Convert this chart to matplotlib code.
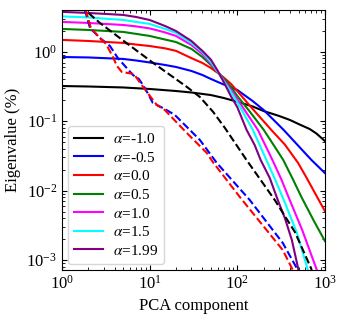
import numpy as np
import matplotlib
matplotlib.use('Agg')
import matplotlib.pyplot as plt

plt.rcParams['font.family'] = 'serif'
plt.rcParams['font.serif'] = ['Liberation Serif', 'DejaVu Serif']
plt.rcParams['mathtext.fontset'] = 'stix'
plt.rcParams['font.size'] = 12

# solid curves: eigenvalue spectrum for each alpha
labels = [r'$\alpha$=-1.0', r'$\alpha$=-0.5', r'$\alpha$=0.0', r'$\alpha$=0.5',
          r'$\alpha$=1.0', r'$\alpha$=1.5', r'$\alpha$=1.99']
colors = ['black', 'blue', 'red', 'green', 'magenta', 'cyan', 'purple']

x_m10 = [1, 2, 5, 10, 20, 30, 50, 70, 100, 150, 200, 300, 400, 500, 670, 800, 1000]
y_m10 = [0.321, 0.316, 0.306, 0.291, 0.272, 0.259, 0.238, 0.216, 0.191, 0.163, 0.140,
         0.119, 0.104, 0.0911, 0.0772, 0.0665, 0.0518]

x_m05 = [1, 2, 5, 7, 10, 15, 20, 30, 40, 50, 60, 70, 85, 100, 150, 200, 339, 500, 703, 1000]
y_m05 = [0.84, 0.828, 0.788, 0.749, 0.701, 0.645, 0.604, 0.529, 0.463, 0.406, 0.367, 0.338,
         0.306, 0.282, 0.195, 0.145, 0.0747, 0.0439, 0.0276, 0.0179]

x_00 = [1, 2, 5, 7, 10, 15, 20, 30, 40, 50, 60, 70, 85, 100, 150, 245, 350, 495, 620, 770, 1000]
y_00 = [1.48, 1.43, 1.34, 1.27, 1.21, 1.12, 1.03, 0.81, 0.690, 0.584, 0.495, 0.426, 0.344,
        0.272, 0.150, 0.0747, 0.0459, 0.025, 0.0152, 0.00923, 0.00508]

x_05 = [1, 2, 5, 7, 10, 15, 20, 30, 40, 50, 60, 70, 85, 100, 140, 201, 260, 335, 430, 540, 750, 1000]
y_05 = [2.13, 2.06, 1.93, 1.81, 1.69, 1.50, 1.38, 1.10, 0.841, 0.645, 0.511, 0.412, 0.311,
        0.231, 0.136, 0.0747, 0.0454, 0.0276, 0.0147, 0.00809, 0.00365, 0.00188]

x_10 = [1, 2, 5, 7, 10, 15, 20, 30, 40, 50, 60, 70, 85, 100, 130, 172, 252, 320, 397, 550, 810]
y_10 = [2.69, 2.60, 2.43, 2.32, 2.17, 1.90, 1.69, 1.25, 0.930, 0.678, 0.511, 0.393, 0.282,
        0.209, 0.127, 0.0747, 0.0276, 0.0143, 0.00732, 0.00272, 0.000718]

x_15 = [1, 2, 5, 7, 10, 15, 20, 30, 40, 50, 60, 70, 85, 100, 151, 215, 270, 340, 480, 640]
y_15 = [3.23, 3.12, 2.87, 2.69, 2.52, 2.13, 1.87, 1.34, 0.993, 0.713, 0.511, 0.380, 0.263,
        0.189, 0.0747, 0.0276, 0.0145, 0.00732, 0.00245, 0.000718]

x_199 = [1, 2, 5, 7, 10, 15, 20, 30, 40, 50, 60, 70, 85, 100, 128, 158, 185, 235, 290, 350, 420, 500]
y_199 = [3.75, 3.62, 3.39, 3.17, 2.87, 2.35, 1.99, 1.43, 1.03, 0.772, 0.529, 0.367, 0.227,
         0.160, 0.0747, 0.0454, 0.0276, 0.0152, 0.00732, 0.0040, 0.00194, 0.000718]

# dashed curves
xd_black = [1, 1.83, 2.71, 5.47, 11.0, 26.4, 37.5, 53.1, 72.3, 127.7, 268.5, 455, 709]
yd_black = [7.5, 4.0, 2.6, 1.33, 0.69, 0.314, 0.223, 0.136, 0.080, 0.0276, 0.0073, 0.00253, 0.00072]

xd_blue = [1, 2.09, 2.71, 3.53, 4.35, 5.23, 6.45, 7.55, 8.84, 10.9, 14.9, 19.4, 37.5, 58.5, 139, 331, 491]
yd_blue = [60, 2.20, 1.58, 1.21, 0.81, 0.624, 0.463, 0.406, 0.301, 0.183, 0.150, 0.123, 0.0536, 0.0250,
           0.00732, 0.00176, 0.000718]

xd_red = [1, 2.14, 2.71, 3.18, 3.82, 4.24, 4.83, 6.62, 7.96, 9.32, 12.1, 14.9, 26.6, 45.0, 52.7, 107, 331, 431]
yd_red = [60, 2.20, 1.58, 1.30, 0.84, 0.624, 0.511, 0.479, 0.344, 0.263, 0.171, 0.145, 0.0676, 0.0348,
          0.0258, 0.00809, 0.00139, 0.000718]

solid = [(x_m10, y_m10), (x_m05, y_m05), (x_00, y_00), (x_05, y_05),
         (x_10, y_10), (x_15, y_15), (x_199, y_199)]
dashed = [(xd_black, yd_black, 'black'), (xd_blue, yd_blue, 'blue'), (xd_red, yd_red, 'red')]

fig = plt.figure(figsize=(3.46, 3.21), dpi=100)
ax = fig.add_axes([0.179, 0.159, 0.76, 0.81])

for (xs, ys), c, lab in zip(solid, colors, labels):
    ax.plot(xs, ys, color=c, lw=1.5, label=lab)
for xs, ys, c in dashed:
    ax.plot(xs, ys, color=c, lw=1.5, ls='--')

ax.set_xscale('log')
ax.set_yscale('log')
ax.set_xlim(1, 1000)
ax.set_ylim(7.2e-4, 4.0)
ax.tick_params(which='both', direction='in', top=True, right=True)
ax.set_xlabel('PCA component')
ax.set_ylabel('Eigenvalue (%)')
ax.legend(loc='lower left', fontsize=11, labelspacing=0.3, handlelength=1.9,
          handletextpad=0.65, borderaxespad=0.4)

fig.savefig('out.png', dpi=100)
